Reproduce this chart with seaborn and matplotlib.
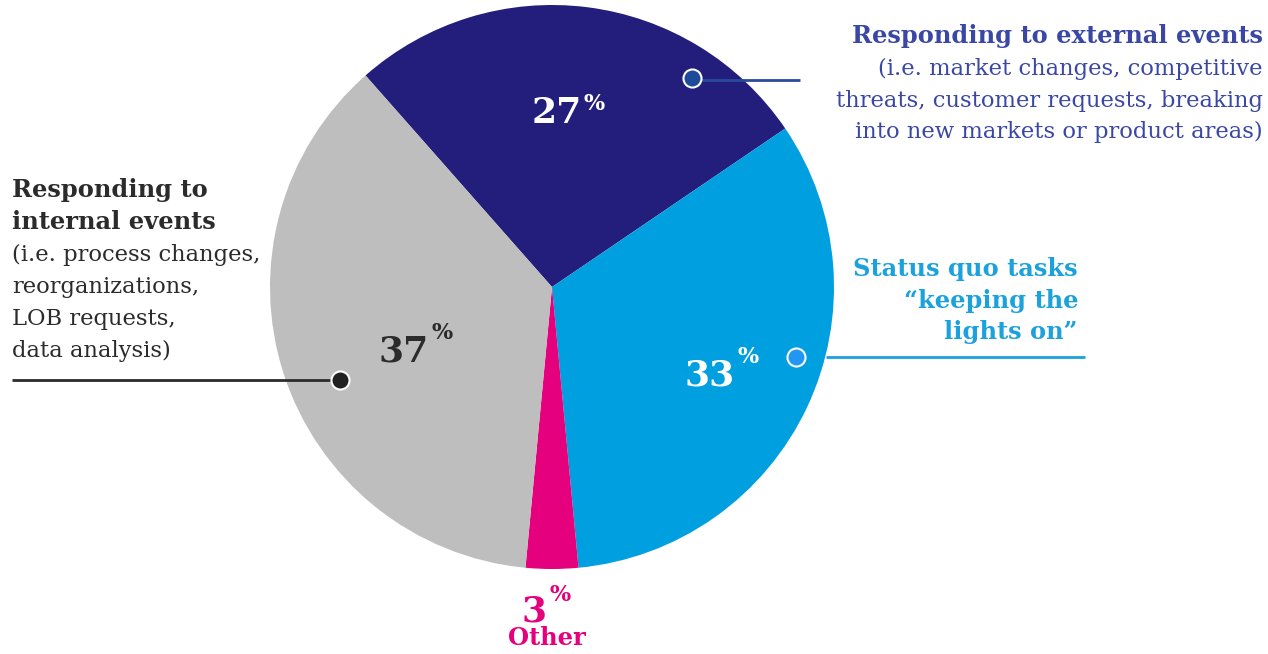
import matplotlib
matplotlib.use("Agg")
import matplotlib.pyplot as plt
import seaborn as sns

# shares of time, clockwise from the top-left edge
segments = ["Responding to external events", "Status quo tasks", "Other", "Responding to internal events"]
shares = [27, 33, 3, 37]
slice_colors = ["#231D7B", "#009FDF", "#E5007D", "#BEBEBE"]

sns.set_theme(style="white")
plt.rcParams["font.family"] = ["DejaVu Serif"]

W, H = 1268, 654
BOLD, REG = 17.4, 16.3
fig = plt.figure(figsize=(W / 100, H / 100), dpi=100)

# pie axes: centre (552, 287), radius 282 px
ax = fig.add_axes([270 / W, 85 / H, 564 / W, 564 / H])
ax.pie(shares, colors=slice_colors, startangle=131.4, counterclock=False,
       radius=1, wedgeprops=dict(linewidth=0))
ax.set_xlim(-1, 1)
ax.set_ylim(-1, 1)
ax.set_aspect("equal")
ax.axis("off")

# overlay in pixel coordinates for labels and leader lines
ov = fig.add_axes([0, 0, 1, 1], zorder=5)
ov.set_xlim(0, W)
ov.set_ylim(H, 0)
ov.axis("off")
ov.patch.set_alpha(0)

# percentage labels
pct_pos = [(582, 123, 110), (735, 385, 363), (547, 622, 601), (429, 361, 339)]
pct_colors = ["white", "white", "#E5007D", "#2B2B2B"]
for v, (x, yb, yp), c in zip(shares, pct_pos, pct_colors):
    ov.text(x, yb, str(v), ha="right", va="baseline", fontsize=26,
            fontweight="bold", color=c)
    ov.text(x + 2, yp, "%", ha="left", va="baseline", fontsize=16,
            fontweight="bold", color=c)

ov.text(547, 645, "Other", ha="center", va="baseline", fontsize=BOLD,
        fontweight="bold", color="#E5007D")

# external events
ext_c = "#3A47A5"
ov.text(1263, 43, "Responding to external events", ha="right", va="baseline",
        fontsize=BOLD, fontweight="bold", color=ext_c)
for y, s in zip([75, 107, 138], ["(i.e. market changes, competitive",
                                 "threats, customer requests, breaking",
                                 "into new markets or product areas)"]):
    ov.text(1263, y, s, ha="right", va="baseline", fontsize=REG, color=ext_c)
ov.plot([700, 800], [80, 80], color="#2A4A9C", lw=2, solid_capstyle="butt")
ov.plot([692], [78], "o", ms=13, mfc="#1E4A9A", mec="white", mew=1.5)

# status quo
sq_c = "#1BA1DB"
for y, s in zip([276, 308, 339], ["Status quo tasks", "\u201ckeeping the", "lights on\u201d"]):
    ov.text(1078, y, s, ha="right", va="baseline", fontsize=BOLD,
            fontweight="bold", color=sq_c)
ov.plot([826, 1085], [357, 357], color=sq_c, lw=2, solid_capstyle="butt")
ov.plot([796], [357], "o", ms=13, mfc="#2196F3", mec="white", mew=1.5)

# internal events
in_c = "#2B2B2B"
for y, s in zip([197, 229], ["Responding to", "internal events"]):
    ov.text(12, y, s, ha="left", va="baseline", fontsize=BOLD,
            fontweight="bold", color=in_c)
for y, s in zip([261, 293, 325, 357], ["(i.e. process changes,", "reorganizations,",
                                       "LOB requests,", "data analysis)"]):
    ov.text(12, y, s, ha="left", va="baseline", fontsize=REG, color=in_c)
ov.plot([12, 340], [380, 380], color=in_c, lw=2, solid_capstyle="butt")
ov.plot([340], [380], "o", ms=13, mfc="#222222", mec="white", mew=1.5)

fig.savefig("out.png", dpi=100, facecolor="white")
